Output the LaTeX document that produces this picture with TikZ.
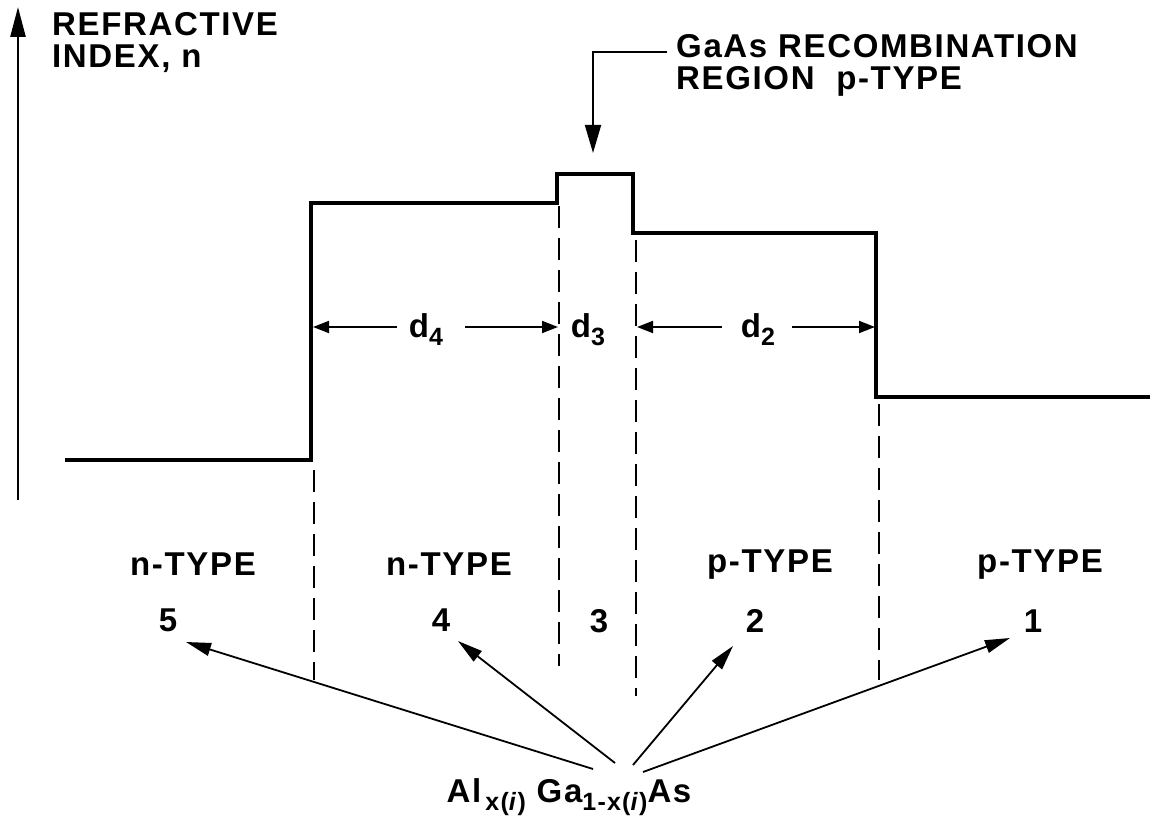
\documentclass[tikz,border=0pt]{standalone}
\usepackage{fontspec}
\setmainfont[LetterSpace=5]{Liberation Sans}
\usetikzlibrary{arrows.meta}
\newcommand{\lowsub}[1]{\raisebox{-8pt}{\fontsize{25}{25}\selectfont #1}}
\begin{document}
\begin{tikzpicture}[x=1pt,y=-1pt,
  lbl/.style={font=\fontsize{33}{36}\selectfont\bfseries, inner sep=0pt},
  prof/.style={line width=4pt, line join=miter},
  dsh/.style={line width=2.2pt, dash pattern=on 22pt off 10pt},
  darr/.style={line width=1.8pt, -{Triangle[length=16pt,width=12pt]}},
  farr/.style={line width=1.8pt, -{Triangle[length=25pt,width=13pt]}},
  axarr/.style={line width=2.6pt, -{Triangle[length=30pt,width=15pt]}}]
\useasboundingbox (0,0) rectangle (1153,818);
% axis
\coordinate (ax0) at (18,500);
\coordinate (ax1) at (18,7);
\draw[axarr] (ax0) -- (ax1);
\node[lbl, anchor=base west] (ylab1) at (52,36) {REFRACTIVE};
\node[lbl, anchor=base west] (ylab2) at (52,68) {INDEX, n};
% profile
\coordinate (p0) at (65,460);
\coordinate (p1) at (311,460);
\coordinate (p2) at (311,203);
\coordinate (p3) at (557,203);
\coordinate (p4) at (557,174);
\coordinate (p5) at (633,174);
\coordinate (p6) at (633,233);
\coordinate (p7) at (876,233);
\coordinate (p8) at (876,397);
\coordinate (p9) at (1150,397);
\draw[prof] (p0) -- (p1) -- (p2) -- (p3) -- (p4) -- (p5) -- (p6) -- (p7) -- (p8) -- (p9);
% dashed boundaries
\coordinate (a1) at (314,470); \coordinate (b1) at (314,680);
\coordinate (a2) at (559,206); \coordinate (b2) at (559,666);
\coordinate (a3) at (636,240); \coordinate (b3) at (636,696);
\coordinate (a4) at (879,404); \coordinate (b4) at (879,680);
\draw[dsh] (a1) -- (b1);
\draw[dsh] (a2) -- (b2);
\draw[dsh] (a3) -- (b3);
\draw[dsh] (a4) -- (b4);
% thickness labels
\node[lbl, anchor=base] (d4) at (426,337) {d\lowsub{4}};
\node[lbl, anchor=base] (d3) at (588,337) {d\lowsub{3}};
\node[lbl, anchor=base] (d2) at (758,337) {d\lowsub{2}};
\coordinate (s4l) at (397,327); \coordinate (l4) at (313,327);
\coordinate (s4r) at (465,327); \coordinate (r4) at (558,327);
\coordinate (s2l) at (722,327); \coordinate (l2) at (637,327);
\coordinate (s2r) at (792,327); \coordinate (r2) at (875,327);
\draw[darr] (s4l) -- (l4);
\draw[darr] (s4r) -- (r4);
\draw[darr] (s2l) -- (l2);
\draw[darr] (s2r) -- (r2);
% callout
\node[lbl, anchor=base west] (gaas1) at (676,58) {GaAs RECOMBINATION};
\node[lbl, anchor=base west] (gaas2) at (676,90) {REGION\ \ p-TYPE};
\coordinate (c0) at (667,52);
\coordinate (c1) at (593,52);
\coordinate (c2) at (593,153);
\draw[line width=1.8pt, -{Triangle[length=28pt,width=16pt]}] (c0) -- (c1) -- (c2);
% region labels
\node[lbl, anchor=base] (t5) at (193,575) {n-TYPE};
\node[lbl, anchor=base] (t4) at (449,575) {n-TYPE};
\node[lbl, anchor=base] (t2) at (770,572) {p-TYPE};
\node[lbl, anchor=base] (t1) at (1040,572) {p-TYPE};
\node[lbl, anchor=base] (n5) at (168,631) {5};
\node[lbl, anchor=base] (n4) at (441,631) {4};
\node[lbl, anchor=base] (n3) at (599,632) {3};
\node[lbl, anchor=base] (n2) at (755,632) {2};
\node[lbl, anchor=base] (n1) at (1033,632) {1};
% formula
\node[lbl, anchor=base] (alga) at (569,802) {Al\lowsub{\,x(\textit{i})}\ Ga\lowsub{1-x(\textit{i})}As};
\coordinate (e5) at (593,769);
\coordinate (e4) at (615,763);
\coordinate (e2) at (633,765);
\coordinate (e1) at (643,772);
\coordinate (h5) at (186,642);
\coordinate (h4) at (458,641);
\coordinate (h2) at (733,646);
\coordinate (h1) at (1010,638);
\draw[farr] (e5) -- (h5);
\draw[farr] (e4) -- (h4);
\draw[farr] (e2) -- (h2);
\draw[farr] (e1) -- (h1);
\end{tikzpicture}
\end{document}
